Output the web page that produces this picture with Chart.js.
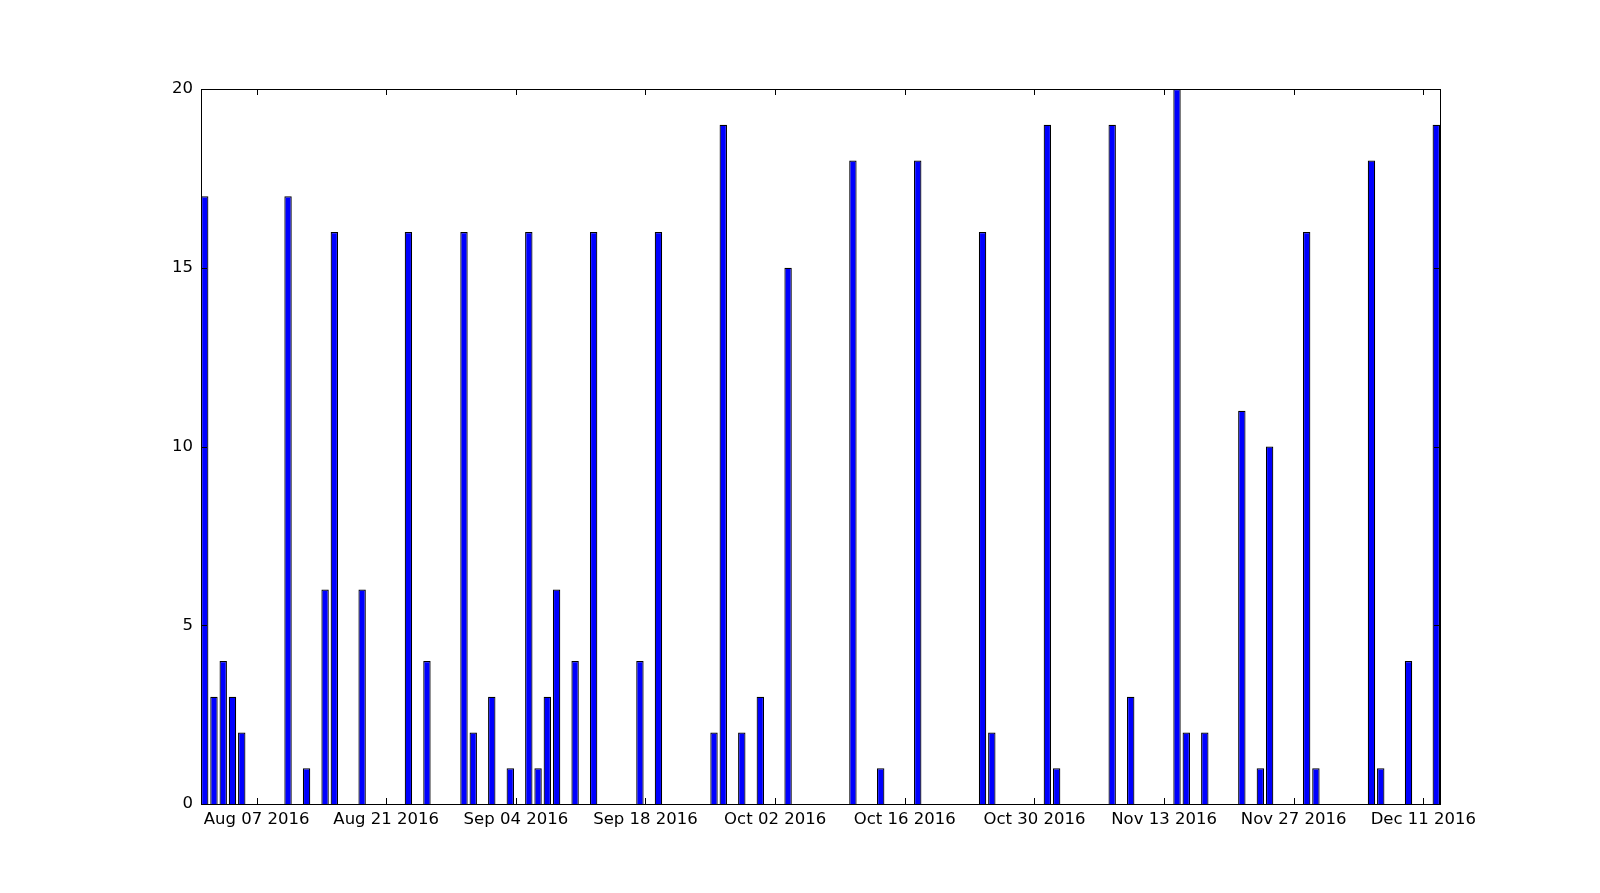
<!DOCTYPE html>
<html>
<head>
<meta charset="utf-8">
<script src="https://cdn.jsdelivr.net/npm/chart.js@4"></script>
<style>
  body { margin: 0; background: #fff; }
  #wrap { width: 1600px; height: 893px; }
</style>
</head>
<body>
<div id="wrap"><canvas id="myChart"></canvas></div>
<script>
// one bar per day that had any entries
const dates = [
  "2016-08-01", "2016-08-02", "2016-08-03", "2016-08-04", "2016-08-05",
  "2016-08-10", "2016-08-12", "2016-08-14", "2016-08-15", "2016-08-18",
  "2016-08-23", "2016-08-25", "2016-08-29", "2016-08-30", "2016-09-01",
  "2016-09-03", "2016-09-05", "2016-09-06", "2016-09-07", "2016-09-08",
  "2016-09-10", "2016-09-12", "2016-09-17", "2016-09-19", "2016-09-25",
  "2016-09-26", "2016-09-28", "2016-09-30", "2016-10-03", "2016-10-10",
  "2016-10-13", "2016-10-17", "2016-10-24", "2016-10-25", "2016-10-31",
  "2016-11-01", "2016-11-07", "2016-11-09", "2016-11-14", "2016-11-15",
  "2016-11-17", "2016-11-21", "2016-11-23", "2016-11-24", "2016-11-28",
  "2016-11-29", "2016-12-05", "2016-12-06", "2016-12-09", "2016-12-12",
];
const counts = [
  17, 3, 4, 3, 2,
  17, 1, 6, 16, 6,
  16, 4, 16, 2, 3,
  1, 16, 1, 3, 6,
  4, 16, 4, 16, 2,
  19, 2, 3, 15, 18,
  1, 18, 16, 2, 19,
  1, 19, 3, 20, 2,
  2, 11, 1, 10, 16,
  1, 18, 1, 4, 19,
];
const xTickLabels = [
  "Aug 07 2016", "Aug 21 2016", "Sep 04 2016", "Sep 18 2016", "Oct 02 2016",
  "Oct 16 2016", "Oct 30 2016", "Nov 13 2016", "Nov 27 2016", "Dec 11 2016",
];
const yTicks = [0, 5, 10, 15, 20];

const BAR_WIDTH = 0.8; // in days, bars start at the date (left edge)
const DAY = 24 * 3600 * 1000;
const MONTHS = ["Jan", "Feb", "Mar", "Apr", "May", "Jun", "Jul", "Aug", "Sep", "Oct", "Nov", "Dec"];

const origin = Date.UTC(2016, 7, 1);
function isoToDay(s) {
  const [y, m, d] = s.split("-").map(Number);
  return (Date.UTC(y, m - 1, d) - origin) / DAY;
}
function labelToDay(s) {
  const [mon, d, y] = s.split(" ");
  return (Date.UTC(Number(y), MONTHS.indexOf(mon), Number(d)) - origin) / DAY;
}

const points = dates.map((d, i) => ({ x: isoToDay(d) + BAR_WIDTH / 2, y: counts[i] }));
const xMin = isoToDay(dates[0]);
const xMax = isoToDay(dates[dates.length - 1]) + BAR_WIDTH;
const xTickDays = xTickLabels.map(labelToDay);

// matplotlib-like frame with inward ticks on all four sides
const frame = {
  id: "frame",
  afterDraw(chart) {
    const { ctx, chartArea: a, scales } = chart;
    const len = 6;
    ctx.save();
    ctx.strokeStyle = "#000";
    ctx.lineWidth = 1;
    ctx.beginPath();
    xTickDays.forEach((v) => {
      const px = Math.round(scales.x.getPixelForValue(v)) + 0.5;
      ctx.moveTo(px, a.bottom);
      ctx.lineTo(px, a.bottom - len);
      ctx.moveTo(px, a.top);
      ctx.lineTo(px, a.top + len);
    });
    yTicks.forEach((v) => {
      const py = Math.round(scales.y.getPixelForValue(v)) + 0.5;
      ctx.moveTo(a.left, py);
      ctx.lineTo(a.left + len, py);
      ctx.moveTo(a.right, py);
      ctx.lineTo(a.right - len, py);
    });
    ctx.stroke();
    ctx.strokeRect(Math.round(a.left) + 0.5, Math.round(a.top) + 0.5,
      Math.round(a.right - a.left), Math.round(a.bottom - a.top));
    ctx.restore();
  },
};

window.onload = function () {
  Chart.defaults.font.family = "'DejaVu Sans', sans-serif";
  Chart.defaults.font.size = 16.5;
  Chart.defaults.color = "#000";

  const ctx = document.getElementById("myChart");
  window.chart = new Chart(ctx, {
    type: "bar",
    data: {
      datasets: [
        {
          data: points,
          backgroundColor: "#0000ff",
          borderColor: "#000",
          borderWidth: 1.2,
          barPercentage: BAR_WIDTH,
          categoryPercentage: 1,
        },
      ],
    },
    options: {
      responsive: true,
      maintainAspectRatio: false,
      animation: false,
      layout: { padding: { left: 141, right: 160, top: 89, bottom: 49 } },
      plugins: {
        legend: { display: false },
        tooltip: { enabled: false },
      },
      scales: {
        x: {
          type: "linear",
          offset: false,
          min: xMin,
          max: xMax,
          grid: { display: false, offset: false },
          border: { display: false },
          afterBuildTicks: (scale) => {
            scale.ticks = xTickDays.map((v) => ({ value: v }));
          },
          afterFit: (scale) => {
            scale.height = 40;
          },
          ticks: {
            autoSkip: false,
            maxRotation: 0,
            padding: -2,
            callback: (value, index) => xTickLabels[index],
          },
        },
        y: {
          min: 0,
          max: 20,
          grid: { display: false },
          border: { display: false },
          afterBuildTicks: (scale) => {
            scale.ticks = yTicks.map((v) => ({ value: v }));
          },
          afterFit: (scale) => {
            scale.width = 60;
          },
          ticks: { padding: 0 },
        },
      },
    },
    plugins: [frame],
  });
};
</script>
</body>
</html>
